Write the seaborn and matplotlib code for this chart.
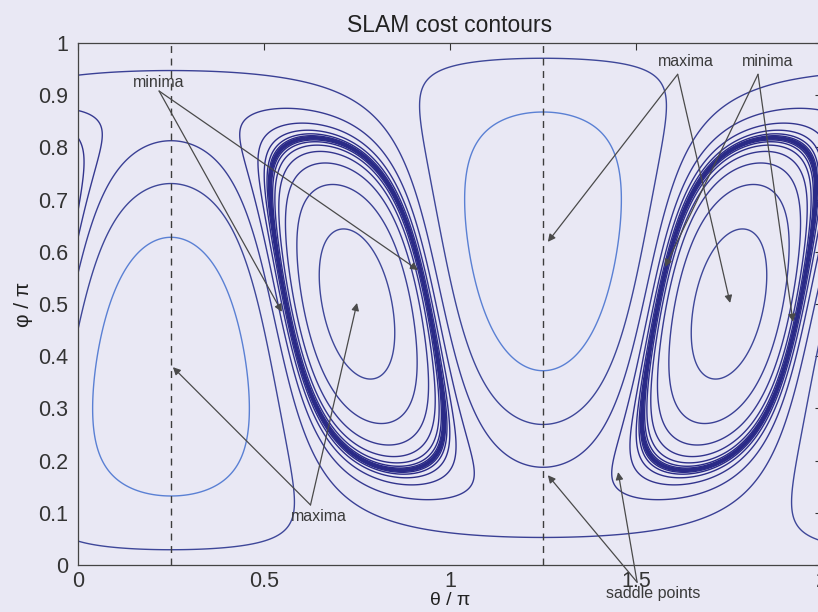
import numpy as np
import pandas as pd
import matplotlib
matplotlib.use("Agg")
import matplotlib.pyplot as plt
import seaborn as sns

# Principal directions of the quadratic cost form, in (theta/pi, phi/pi)
axis_theta = [0.75, 0.25]
axis_phi = [0.50, 0.38]
# Weights of the three principal directions (enclosed axis, outer peak, saddle axis)
axis_weights = [-0.41, 1.0, 0.12]

# Contour levels of log|cost|: highest level, spacing, number of levels
level_top = -0.569
level_step = 0.636
level_count = 22
line_colors = ["#2a2a87"] * 16 + ["#2e2f8a", "#32348d", "#363a91", "#3a4095", "#3e4799", "#5a80d4"]

# Dashed reference meridians
dashed_theta = [0.25, 1.25]

x_ticks = [0, 0.5, 1, 1.5, 2]
x_tick_labels = ["0", "0.5", "1", "1.5", "2"]
y_ticks = [0, 0.1, 0.2, 0.3, 0.4, 0.5, 0.6, 0.7, 0.8, 0.9, 1]
y_tick_labels = ["0", "0.1", "0.2", "0.3", "0.4", "0.5", "0.6", "0.7", "0.8", "0.9", "1"]

# Annotations: label, label position, arrow start, arrow tips
annotations = [
    ("minima", (0.218, 0.925), (0.218, 0.908), [(0.548, 0.485), (0.914, 0.565)]),
    ("maxima", (0.648, 0.092), (0.625, 0.115), [(0.255, 0.379), (0.750, 0.502)]),
    ("maxima", (1.634, 0.964), (1.612, 0.940), [(1.263, 0.619), (1.753, 0.502)]),
    ("minima", (1.855, 0.964), (1.828, 0.940), [(1.578, 0.571), (1.922, 0.466)]),
    ("saddle points", (1.546, -0.054), (1.503, -0.033), [(1.263, 0.172), (1.452, 0.178)]),
]

bg = "#e9e8f4"
sns.set_style("white")
plt.rcParams["font.family"] = ["Liberation Sans", "DejaVu Sans"]

fig = plt.figure(figsize=(8.18, 6.12), dpi=100, facecolor=bg)
ax = fig.add_axes([78 / 818, 47 / 612, 744 / 818, 522 / 612])
ax.set_facecolor(bg)


def unit(t, p):
    t, p = np.pi * t, np.pi * p
    return np.array([np.sin(p) * np.cos(t), np.sin(p) * np.sin(t), np.cos(p)])


e_a = unit(axis_theta[0], axis_phi[0])
e_b = unit(axis_theta[1], axis_phi[1])
e_c = np.cross(e_a, e_b)
Q = sum(w * np.outer(e, e) for w, e in zip(axis_weights, [e_a, e_b, e_c]))

theta = np.linspace(0, 2, 1201)
phi = np.linspace(0, 1, 601)
T, P = np.meshgrid(theta, phi)
n = np.stack([np.sin(np.pi * P) * np.cos(np.pi * T),
              np.sin(np.pi * P) * np.sin(np.pi * T),
              np.cos(np.pi * P)], axis=-1)
q = np.einsum("...i,ij,...j->...", n, Q, n)
cost = np.log(np.abs(q) + 1e-12)

levels = level_top - level_step * np.arange(level_count)[::-1]
ax.contour(T, P, cost, levels=levels, colors=line_colors, linewidths=1.0)

for xv in dashed_theta:
    sns.lineplot(x=[xv, xv], y=[0, 1], ax=ax, color="#3c3c3c", lw=1.0,
                 linestyle=(0, (5, 4)), estimator=None, sort=False)

for label, text_xy, start_xy, tips in annotations:
    ax.text(*text_xy, label, fontsize=11.5, color="#3a3a3a", ha="center",
            va="center", clip_on=False)
    for tip in tips:
        ax.annotate("", xy=tip, xytext=start_xy, annotation_clip=False,
                    arrowprops=dict(arrowstyle="-|>", color="#4a4a4a", lw=0.9,
                                    mutation_scale=11, shrinkA=0, shrinkB=0))

ax.set_xlim(0, 2)
ax.set_ylim(0, 1)
ax.set_xticks(x_ticks, x_tick_labels)
ax.set_yticks(y_ticks, y_tick_labels)
ax.tick_params(direction="in", length=5, width=0.8, top=True, right=True,
               labelsize=15.5, colors="#333333", pad=7)
ax.tick_params(axis="x", pad=4)
for s in ax.spines.values():
    s.set_color("#444444")
    s.set_linewidth(0.9)
ax.set_title("SLAM cost contours", fontsize=16.5, color="#222222", pad=8)
ax.set_xlabel("θ / π", fontsize=14, color="#222222", labelpad=0)
ax.set_ylabel("φ / π", fontsize=15, color="#222222", labelpad=4)

fig.savefig("out.png", dpi=100, facecolor=bg)
